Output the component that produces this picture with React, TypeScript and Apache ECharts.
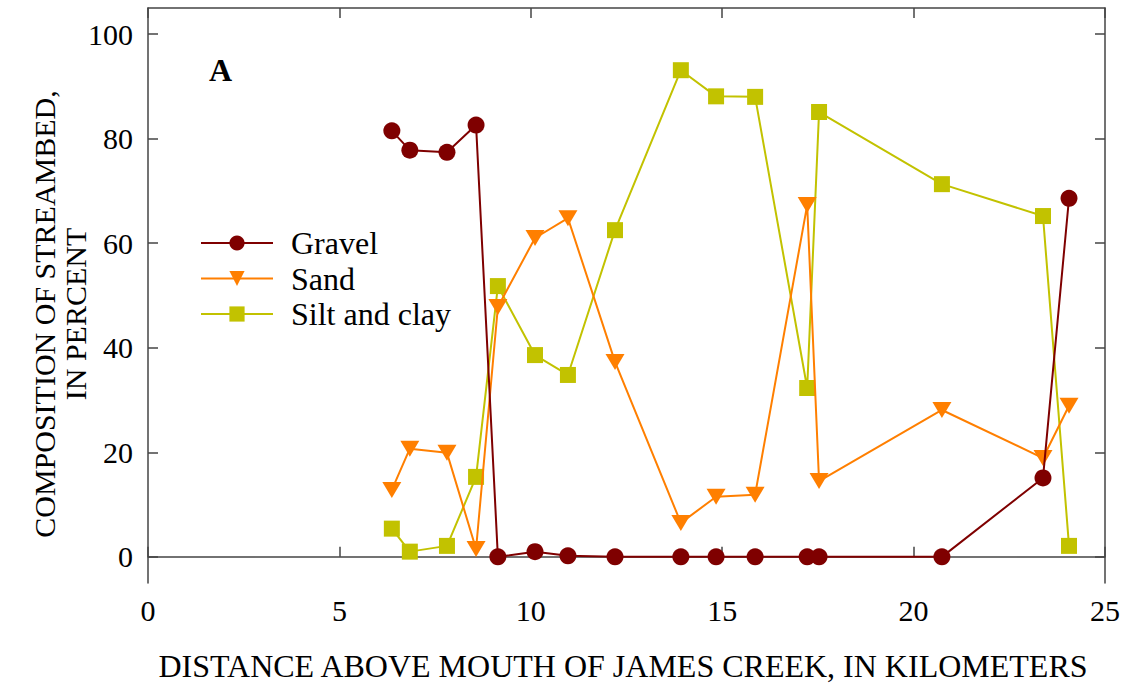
import React, { useEffect, useRef } from "react";
import * as echarts from "echarts";

const distanceKm = [6.37, 6.84, 7.81, 8.57, 9.14, 10.11, 10.97, 12.2, 13.92, 14.84, 15.86, 17.22, 17.53, 20.74, 23.38, 24.06];
const gravel = [81.5, 77.8, 77.4, 82.6, 0, 1.0, 0.2, 0, 0, 0, 0, 0, 0, 0, 15.1, 68.6];
const sand = [12.8, 20.7, 19.9, 1.5, 47.8, 61.0, 64.8, 37.3, 6.5, 11.5, 11.9, 67.3, 14.5, 28.1, 18.9, 28.9];
const siltClay = [5.4, 1.0, 2.1, 15.3, 51.8, 38.6, 34.8, 62.5, 93.1, 88.1, 88.0, 32.3, 85.1, 71.3, 65.2, 2.1];
const yTicks = [0, 20, 40, 60, 80, 100];
const seriesNames = ["Gravel", "Sand", "Silt and clay"];

const FONT = "Liberation Serif";
const AXIS = "#444444";

function pairs(vals: number[]) {
  return distanceKm.map((d, i) => [d, vals[i]]);
}

export default function App() {
  const ref = useRef<HTMLDivElement>(null);
  useEffect(() => {
    document.body.style.margin = "0";
    if (!ref.current) return;
    const chart = echarts.init(ref.current, null, { renderer: "svg" });
    const tickCommon = { show: true, inside: true, length: 10, lineStyle: { color: AXIS, width: 1.5 } };
    chart.setOption({
      animation: false,
      backgroundColor: "#ffffff",
      textStyle: { fontFamily: FONT },
      grid: { left: 148, right: 24, top: 8, bottom: 104, containLabel: false, show: false },
      legend: {
        data: seriesNames,
        orient: "vertical",
        left: 195,
        top: 222,
        itemWidth: 72,
        itemHeight: 19,
        itemGap: 3.5,
        textStyle: {
          fontFamily: FONT,
          fontSize: 32,
          color: "#000",
          lineHeight: 32,
          padding: [0, 0, 0, 13],
        },
      },
      xAxis: [
        {
          type: "value",
          min: 0,
          max: 25,
          interval: 5,
          position: "bottom",
          axisLine: { show: true, lineStyle: { color: AXIS, width: 1.5 } },
          axisTick: tickCommon,
          splitLine: { show: false },
          axisLabel: { color: "#000", fontFamily: FONT, fontSize: 30, margin: 12 },
        },
        {
          type: "value",
          min: 0,
          max: 25,
          interval: 5,
          position: "top",
          axisLine: { show: true, onZero: false, lineStyle: { color: AXIS, width: 1.5 } },
          axisTick: tickCommon,
          splitLine: { show: false },
          axisLabel: { show: false },
        },
      ],
      yAxis: [
        {
          type: "value",
          min: -5,
          max: 105,
          position: "left",
          axisLine: { show: true, onZero: false, lineStyle: { color: AXIS, width: 1.5 } },
          axisTick: { ...tickCommon, customValues: yTicks },
          splitLine: { show: false },
          axisLabel: { color: "#000", fontFamily: FONT, fontSize: 30, margin: 15, customValues: yTicks },
        },
        {
          type: "value",
          min: -5,
          max: 105,
          position: "right",
          axisLine: { show: true, onZero: false, lineStyle: { color: AXIS, width: 1.5 } },
          axisTick: { ...tickCommon, customValues: yTicks },
          splitLine: { show: false },
          axisLabel: { show: false, customValues: yTicks },
        },
      ],
      series: [
        {
          name: "Silt and clay",
          type: "line",
          data: pairs(siltClay),
          symbol: "rect",
          symbolSize: 16,
          z: 2,
          lineStyle: { color: "#c2c200", width: 2 },
          itemStyle: { color: "#c2c200" },
        },
        {
          name: "Sand",
          type: "line",
          data: pairs(sand),
          symbol: "triangle",
          symbolRotate: 180,
          symbolSize: [19, 16],
          z: 3,
          lineStyle: { color: "#ff7f00", width: 2 },
          itemStyle: { color: "#ff7f00" },
        },
        {
          name: "Gravel",
          type: "line",
          data: pairs(gravel),
          symbol: "circle",
          symbolSize: 17,
          z: 4,
          lineStyle: { color: "#7f0000", width: 2 },
          itemStyle: { color: "#7f0000" },
        },
      ],
      graphic: [
        {
          type: "text",
          left: 209,
          top: 54,
          style: { text: "A", font: `bold 32px ${FONT}`, fill: "#000" },
        },
        {
          type: "text",
          x: 623,
          y: 666,
          style: {
            text: "DISTANCE ABOVE MOUTH OF JAMES CREEK, IN KILOMETERS",
            font: `32px ${FONT}`,
            fill: "#000",
            align: "center",
            verticalAlign: "middle",
          },
        },
        {
          type: "text",
          x: 60,
          y: 314,
          rotation: Math.PI / 2,
          style: {
            text: "COMPOSITION OF STREAMBED,\nIN PERCENT",
            font: `30px ${FONT}`,
            lineHeight: 31,
            fill: "#000",
            align: "center",
            verticalAlign: "middle",
          },
        },
      ],
    });
    return () => chart.dispose();
  }, []);
  return <div ref={ref} style={{ width: 1129, height: 687 }} />;
}
